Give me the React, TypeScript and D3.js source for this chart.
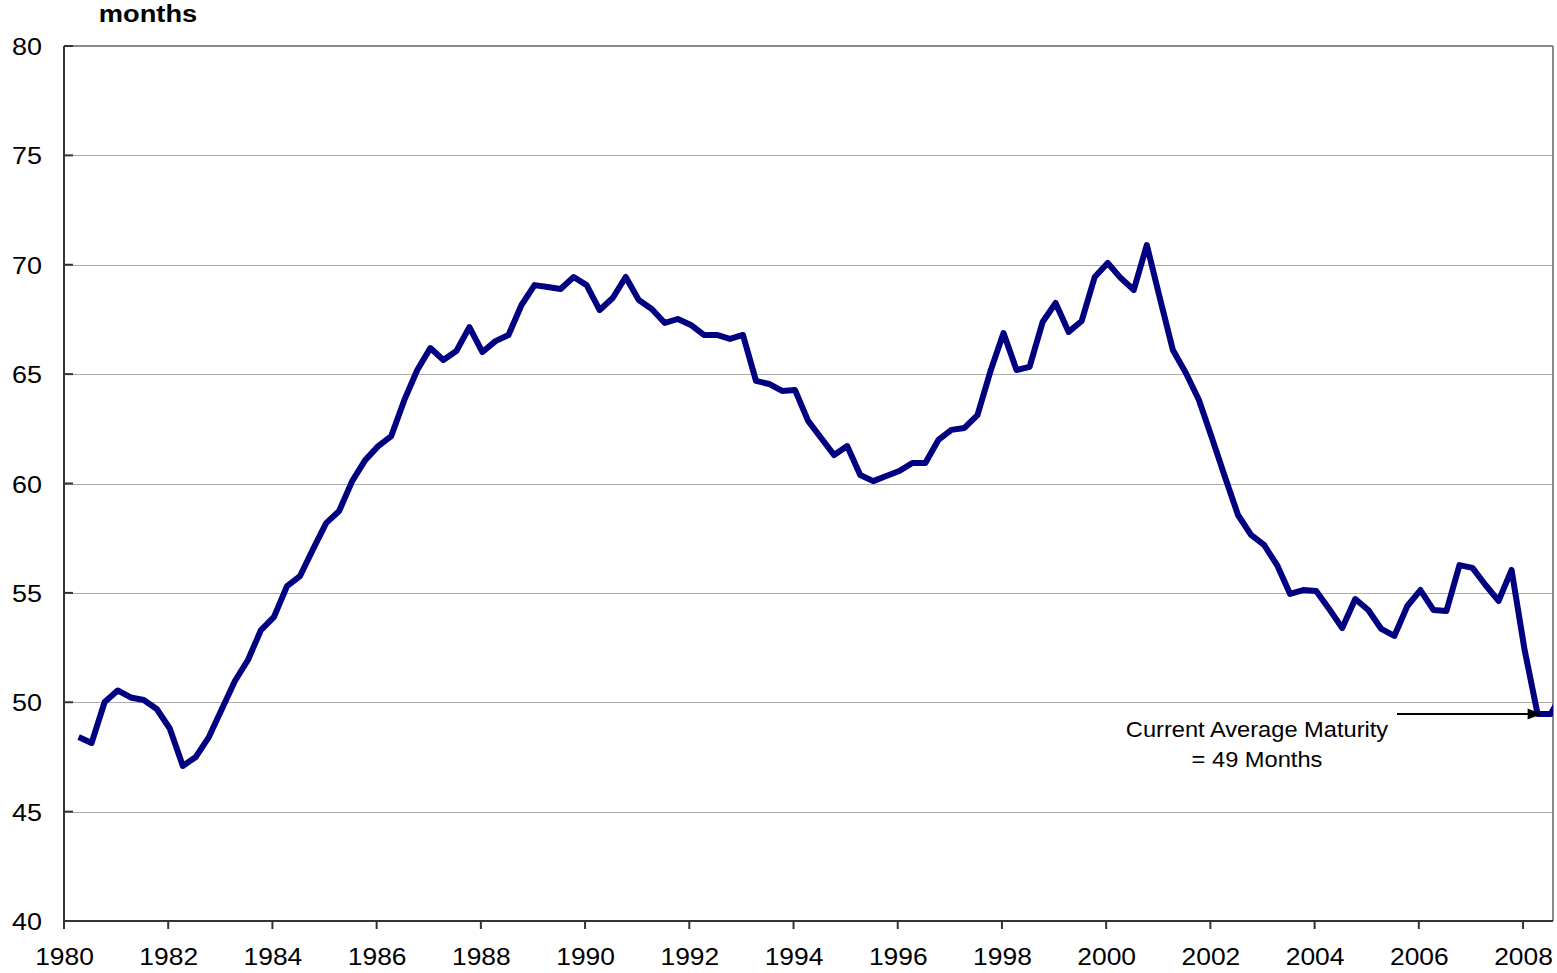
import React from "react";
import * as d3 from "d3";

// Average maturity (months), quarterly, starting 1980 Q2
const startYear = 1980.28;
const stepYears = 0.25;
const maturity: number[] = [
  48.41, 48.14, 50.01, 50.54, 50.22, 50.1, 49.69, 48.8, 47.09, 47.5,
  48.41, 49.69, 50.97, 51.93, 53.3, 53.9, 55.31, 55.77, 57.0, 58.19,
  58.74, 60.11, 61.07, 61.71, 62.17, 63.81, 65.19, 66.19, 65.65, 66.06,
  67.15, 66.01, 66.51, 66.79, 68.16, 69.07, 68.98, 68.89, 69.44, 69.07,
  67.93, 68.48, 69.44, 68.39, 67.98, 67.34, 67.52, 67.25, 66.79, 66.79,
  66.61, 66.79, 64.69, 64.55, 64.23, 64.27, 62.86, 62.08, 61.3, 61.71,
  60.39, 60.11, 60.34, 60.57, 60.94, 60.94, 61.99, 62.45, 62.54, 63.13,
  65.14, 66.88, 65.19, 65.33, 67.38, 68.25, 66.93, 67.43, 69.44, 70.08,
  69.39, 68.85, 70.9, 68.48, 66.1, 65.05, 63.82, 62.08, 60.3, 58.56,
  57.65, 57.19, 56.27, 54.95, 55.13, 55.09, 54.26, 53.39, 54.72, 54.22,
  53.35, 53.03, 54.4, 55.13, 54.22, 54.17, 56.27, 56.14, 55.36, 54.63,
  56.05, 52.39, 49.46, 49.46, 50.5,
];
const yTicks: number[] = [40, 45, 50, 55, 60, 65, 70, 75, 80];
const xTicks: number[] = [1980, 1982, 1984, 1986, 1988, 1990, 1992, 1994, 1996, 1998, 2000, 2002, 2004, 2006, 2008];
const yAxisTitle = "months";
const annotationLines = ["Current Average Maturity", "= 49 Months"];

const W = 1557;
const H = 973;
const left = 64;
const right = 1553;
const top = 46;
const bottom = 921;
const FONT = "'Liberation Sans', Arial, sans-serif";

export default function App() {
  const x = d3.scaleLinear().domain([1980, 2008.575]).range([left, right]);
  const y = d3.scaleLinear().domain([40, 80]).range([bottom, top]);
  const pts: [number, number][] = maturity.map((v, i) => [startYear + i * stepYears, v]);
  const line = d3
    .line<[number, number]>()
    .x((d) => x(d[0]))
    .y((d) => y(d[1]));

  const lastIdx = maturity.length - 2;
  const arrowY = y(maturity[lastIdx]);
  const arrowEnd = x(pts[lastIdx - 1][0]) + 4;
  const arrowStart = 1397;

  return (
    <svg
      width={W}
      height={H}
      style={{ position: "absolute", left: 0, top: 0, background: "#fff" }}
      fontFamily={FONT}
    >
      <defs>
        <clipPath id="plotclip">
          <rect x={left} y={top} width={right - left} height={bottom - top} />
        </clipPath>
      </defs>
      <rect x={0} y={0} width={W} height={H} fill="#fff" />
      {/* gridlines */}
      {yTicks
        .filter((t) => t > 40 && t < 80)
        .map((t) => (
          <line key={t} x1={left} x2={right} y1={Math.round(y(t)) + 0.5} y2={Math.round(y(t)) + 0.5} stroke="#ababab" strokeWidth={1} />
        ))}
      {/* plot border top/right */}
      <line x1={left} x2={right} y1={top} y2={top} stroke="#8a8a8a" strokeWidth={2} />
      <line x1={right} x2={right} y1={top} y2={bottom} stroke="#8a8a8a" strokeWidth={2} />
      {/* data line */}
      <path
        d={line(pts) || ""}
        fill="none"
        stroke="#000080"
        strokeWidth={6}
        strokeLinejoin="round"
        clipPath="url(#plotclip)"
      />
      {/* axes */}
      <line x1={left} x2={left} y1={top} y2={bottom + 1} stroke="#333" strokeWidth={2} />
      <line x1={left - 1} x2={right} y1={bottom} y2={bottom} stroke="#333" strokeWidth={2} />
      {yTicks.map((t) => (
        <g key={"yt" + t}>
          <line x1={left} x2={left + 9} y1={y(t)} y2={y(t)} stroke="#333" strokeWidth={2} />
          <text
            transform={`translate(42, ${y(t) + 9}) scale(1.1,1)`}
            textAnchor="end"
            fontSize={24.5}
            fill="#000"
          >
            {t}
          </text>
        </g>
      ))}
      {xTicks.map((t) => (
        <g key={"xt" + t}>
          <line x1={x(t)} x2={x(t)} y1={bottom} y2={bottom + 8} stroke="#333" strokeWidth={2} />
          <text
            transform={`translate(${x(t) + 0.5}, ${965}) scale(1.1,1)`}
            textAnchor="middle"
            fontSize={24}
            fill="#000"
          >
            {t}
          </text>
        </g>
      ))}
      <text
        transform={`translate(148, 22) scale(1.16,1)`}
        textAnchor="middle"
        fontSize={23.5}
        fontWeight="bold"
        fill="#000"
      >
        {yAxisTitle}
      </text>
      {/* annotation */}
      <line x1={arrowStart} x2={arrowEnd - 12} y1={arrowY} y2={arrowY} stroke="#000" strokeWidth={2} />
      <path
        d={`M${arrowEnd},${arrowY} L${arrowEnd - 14},${arrowY - 5.5} L${arrowEnd - 14},${arrowY + 5.5} Z`}
        fill="#000"
      />
      {annotationLines.map((s, i) => (
        <text
          key={s}
          transform={`translate(1257, ${737 + i * 30}) scale(1.1,1)`}
          textAnchor="middle"
          fontSize={21.5}
          fill="#000"
        >
          {s}
        </text>
      ))}
    </svg>
  );
}
